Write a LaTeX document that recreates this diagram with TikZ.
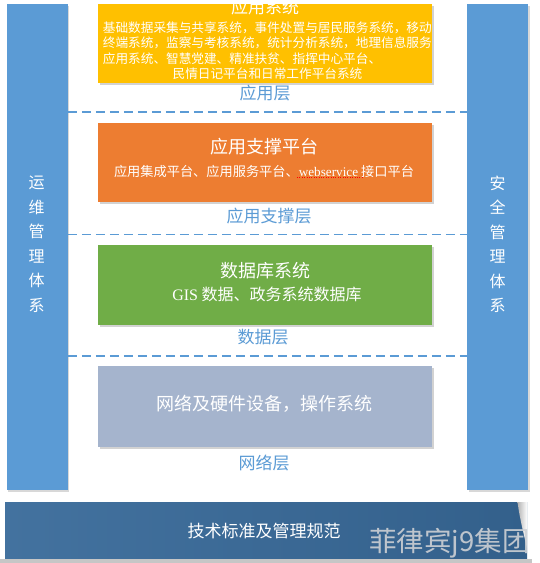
\documentclass[tikz,border=0pt]{standalone}
\usepackage{fontspec}
\setmainfont{Noto Sans CJK SC}
\newfontfamily\latinserif{Liberation Serif}
\usetikzlibrary{shadows}
\definecolor{barblue}{HTML}{5B9BD5}
\definecolor{appyellow}{HTML}{FFC000}
\definecolor{apporange}{HTML}{ED7D31}
\definecolor{datagreen}{HTML}{70AD47}
\definecolor{netgray}{HTML}{A5B4CD}
\definecolor{labelblue}{HTML}{5B9BD5}
\definecolor{baseleft}{HTML}{43729F}
\definecolor{baseright}{HTML}{33608B}
\definecolor{wmgray}{HTML}{CDD0D4}
\tikzset{
  fs/.style={font=\fontsize{#1}{#1}\selectfont},
  layerbox/.style={draw=none, minimum width=334pt, minimum height=80pt, anchor=north west,
    drop shadow={shadow xshift=1.5pt, shadow yshift=-2pt, opacity=0.35}},
  sidebar/.style={fill=barblue, draw=none, minimum width=61pt, minimum height=486pt, anchor=north west,
    drop shadow={shadow xshift=1.5pt, shadow yshift=-2pt, opacity=0.3}},
  sidetext/.style={text=white, align=center, font=\fontsize{16}{24.5}\selectfont},
  boxtitle/.style={text=white, fs=18},
  boxline/.style={text=white, fs=12.65, inner sep=0pt},
  layerlabel/.style={text=labelblue, fs=17},
  layerline/.style={draw=barblue, line width=1.2pt, dash pattern=on 9pt off 5pt},
}
\begin{document}
\begin{tikzpicture}[x=1pt,y=-1pt]
\useasboundingbox (0,0) rectangle (540,563);
\clip (0,0) rectangle (540,563);
\fill[white] (0,0) rectangle (540,563);

% side bars
\node[sidebar] (lbar) at (6.5,4) {};
\node[sidebar] (rbar) at (467,4) {};
\node[sidetext] (ltext) at (36.5,244.5) {运\\维\\管\\理\\体\\系};
\node[sidetext] (rtext) at (497.5,244.5) {安\\全\\管\\理\\体\\系};

% dashed layer separators
\coordinate (d1) at (0,112);
\coordinate (d2) at (0,234.5);
\coordinate (d3) at (0,356);
\draw[layerline] (lbar.east |- d1) -- (rbar.west |- d1);
\draw[layerline] (lbar.east |- d2) -- (rbar.west |- d2);
\draw[layerline] (lbar.east |- d3) -- (rbar.west |- d3);

% application layer
\node[layerbox, fill=appyellow, minimum height=79pt] (app) at (98,4) {};
\node[boxtitle, fs=17] (apptitle) at (265,7) {应用系统};
\node[boxline, anchor=west] (al1) at (102.7,28) {基础数据采集与共享系统，事件处置与居民服务系统，移动};
\node[boxline, anchor=west] (al2) at (102.7,43) {终端系统，监察与考核系统，统计分析系统，地理信息服务};
\node[boxline, anchor=west] (al3) at (102.7,58.5) {应用系统、智慧党建、精准扶贫、指挥中心平台、};
\node[boxline] (al4) at (267.5,74) {民情日记平台和日常工作平台系统};
\node[layerlabel] (applabel) at (265,93) {应用层};

% support layer
\node[layerbox, fill=apporange, minimum height=79pt] (sup) at (98,122.5) {};
\node[boxtitle] (suptitle) at (264,147) {应用支撑平台};
\node[text=white, fs=13.2, inner sep=0pt] (supline) at (264,171) {应用集成平台、应用服务平台、{\latinserif webservice} 接口平台};
\draw[red, line width=0.6pt, dash pattern=on 0.8pt off 1.6pt] (297,177.5) -- (363,177.5);
\node[layerlabel] (suplabel) at (269,216) {应用支撑层};

% data layer
\node[layerbox, fill=datagreen] (data) at (98,245) {};
\node[boxtitle] (datatitle) at (265,271) {数据库系统};
\node[text=white, fs=16, inner sep=0pt] (dataline) at (267,294) {{\latinserif GIS} 数据、政务系统数据库};
\node[layerlabel] (datalabel) at (263,337) {数据层};

% network layer
\node[layerbox, fill=netgray, minimum height=80.5pt] (net) at (98,366) {};
\node[boxtitle] (nettitle) at (264,404) {网络及硬件设备，操作系统};
\node[layerlabel] (netlabel) at (264,463) {网络层};

% bottom base bar
\fill[gray!45] (0,558.5) rectangle (532,563);
\shade[left color=baseleft, right color=baseright] (5,502) rectangle (527,558.5);
\node[inner sep=0pt, minimum width=522pt, minimum height=56.5pt, anchor=north west] (base) at (5,502) {};
\shade[left color=gray!60, right color=white] (517.5,502) .. controls (520,520) and (524,535) .. (527,548) -- (527,502) -- cycle;
\node[text=white, fs=17] (basetext) at (264,531) {技术标准及管理规范};
\node[text=wmgray, fs=27.5, opacity=0.9] (watermark) at (449.5,543) {菲律宾j9集团};
\end{tikzpicture}
\end{document}
